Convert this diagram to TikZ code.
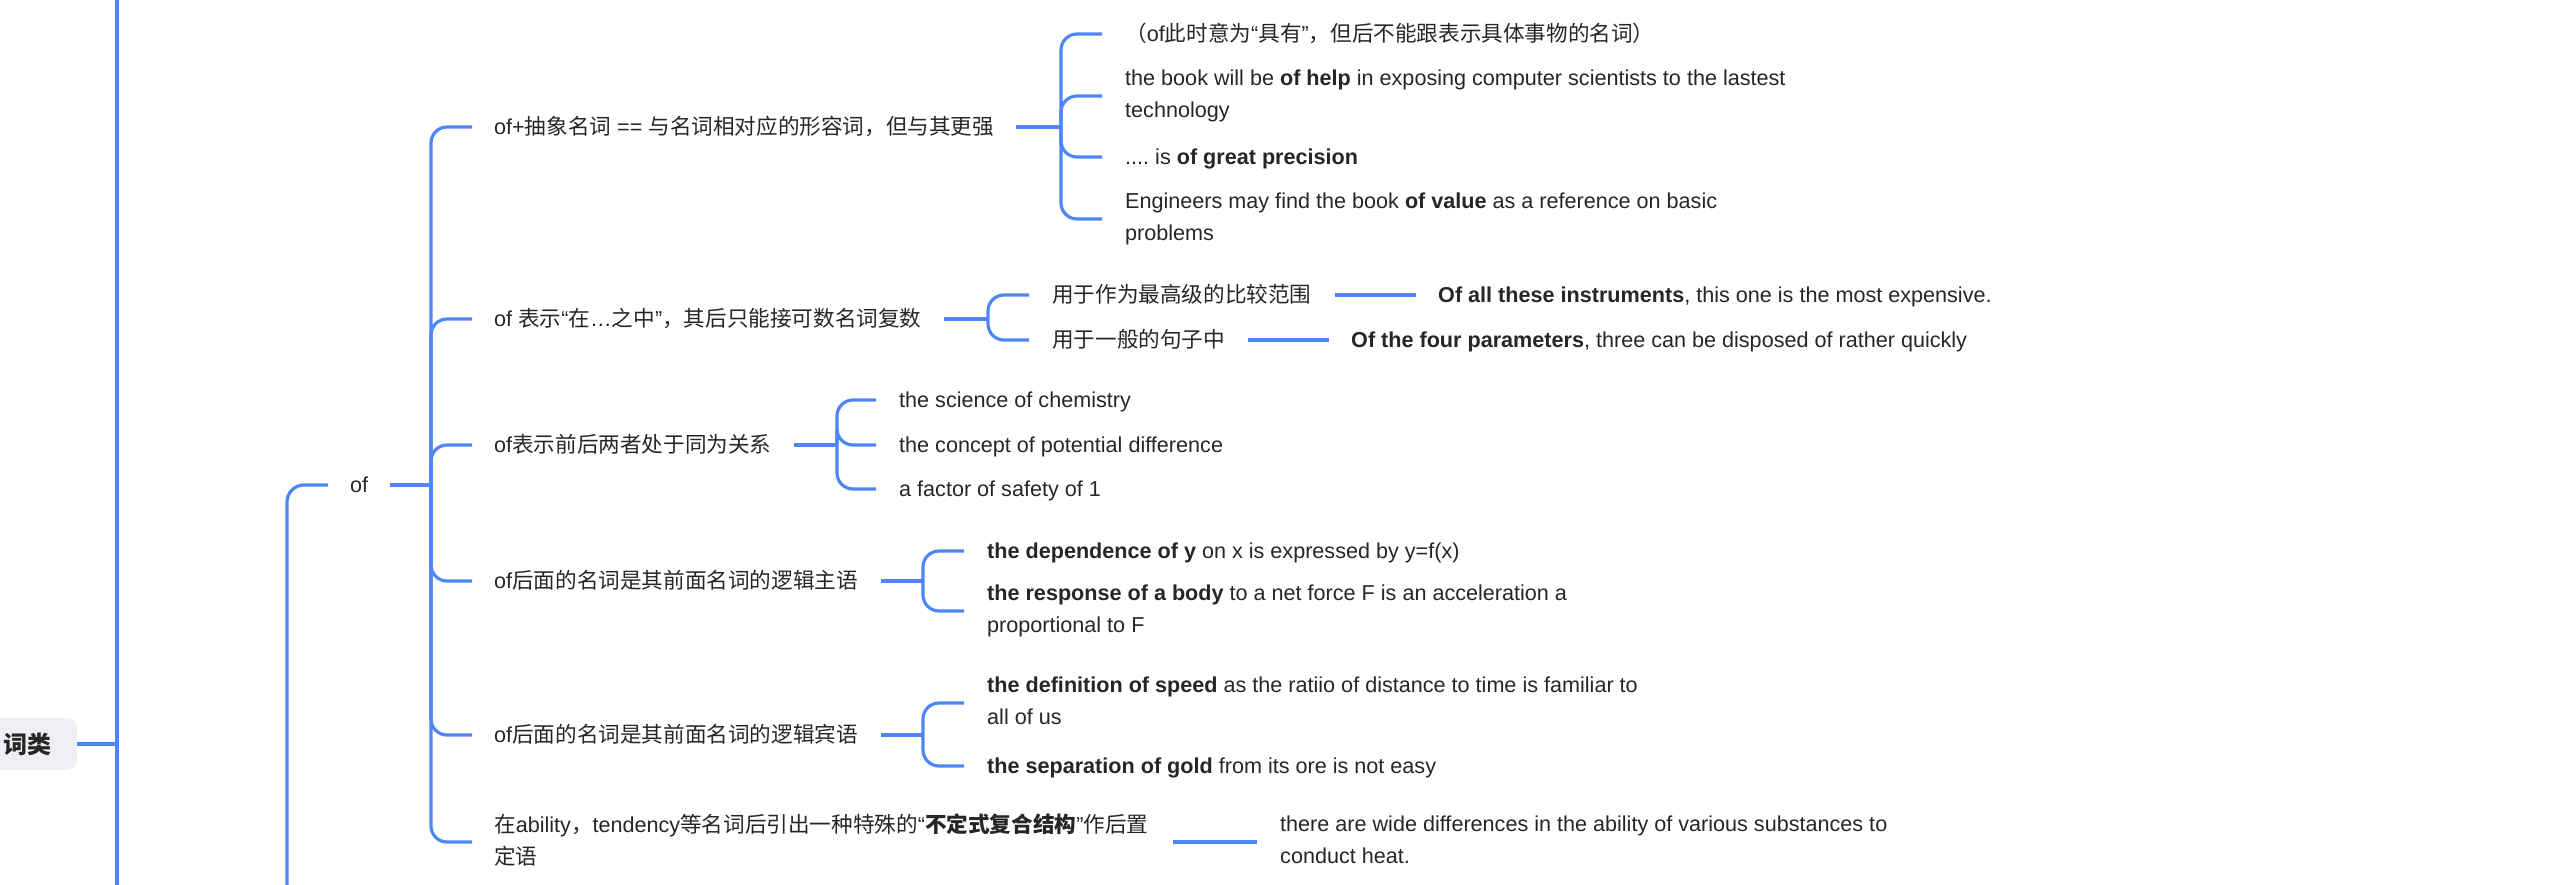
\documentclass[tikz,border=0pt]{standalone}
\usepackage{fontspec}
\setmainfont{Liberation Sans}
\newfontfamily\cjk{Noto Sans CJK SC}[Scale=1.0]
\newcommand{\zh}[1]{{\cjk #1}}
\usetikzlibrary{calc}
\definecolor{mmblue}{HTML}{4F86F7}
\definecolor{mmtext}{HTML}{262626}
\definecolor{mmgray}{HTML}{EEF0F3}
\frenchspacing
\begin{document}
\begin{tikzpicture}[x=1pt,y=-1pt,
  conn/.style={draw=mmblue, line width=3.2pt, rounded corners=16pt},
  txt/.style={anchor=west, inner sep=0pt, text=mmtext, align=left,
    font=\fontsize{21.6}{32}\selectfont,
    execute at begin node={\frenchspacing\rule{0pt}{20pt}},
    execute at end node={\rule[-5pt]{0pt}{5pt}}},
  rootbox/.style={anchor=east, fill=mmgray, rounded corners=10pt, minimum height=52pt,
    inner xsep=25pt, inner ysep=0pt, text=mmtext, font=\fontsize{24}{30}\selectfont}]
\useasboundingbox (0,0) rectangle (2559,885);

% level 0 / 1
\node[rootbox] (root) at (77,744) {\zh{\bfseries 词类}};
\coordinate (L1t) at (117,-10);
\coordinate (L1b) at (117,900);
\draw[conn] (L1t) -- (L1b);
\draw[conn] (root.east) -- (root.east -| L1t);

% of
\coordinate (L2b) at (287,900);
\coordinate (ofin) at (328,485);
\draw[conn, rounded corners=17pt] (L2b) |- (ofin);
\node[txt] (of) at (350,485) {of};
\coordinate (J0) at (431,485);
\draw[conn] ($(of.east)+(22,0)$) -- (J0);

\foreach \n/\y in {1/127,2/319,3/445,4/581,5/735,6/842}{
  \coordinate (t\n) at (472,\y);
  \draw[conn] (J0) |- (t\n);
}

% level 3 nodes
\node[txt] (n1) at ($(t1)+(22,0)$) {of+\zh{抽象名词} == \zh{与名词相对应的形容词，但与其更强}};
\node[txt] (n2) at ($(t2)+(22,0)$) {of \zh{表示}“\zh{在}…\zh{之中}”\zh{，其后只能接可数名词复数}};
\node[txt] (n3) at ($(t3)+(22,0)$) {of\zh{表示前后两者处于同为关系}};
\node[txt] (n4) at ($(t4)+(22,0)$) {of\zh{后面的名词是其前面名词的逻辑主语}};
\node[txt] (n5) at ($(t5)+(22,0)$) {of\zh{后面的名词是其前面名词的逻辑宾语}};
\node[txt] (n6) at ($(t6)+(22,0)$) {\zh{在}ability\zh{，}tendency\zh{等名词后引出一种特殊的}“\zh{\bfseries 不定式复合结构}”\zh{作后置}\\\zh{定语}};

% n1 children
\coordinate (J1) at (1061,127);
\draw[conn] ($(n1.east)+(22,0)$) -- (J1);
\foreach \n/\y in {1/34,2/96,3/157,4/219}{
  \coordinate (t1\n) at (1102,\y);
  \draw[conn] (J1) |- (t1\n);
}
\node[txt] (n11) at ($(t11)+(23,0)$) {\zh{（}of\zh{此时意为}“\zh{具有}”\zh{，但后不能跟表示具体事物的名词）}};
\node[txt] (n12) at ($(t12)+(23,0)$) {the book will be \textbf{of help} in exposing computer scientists to the lastest\\technology};
\node[txt] (n13) at ($(t13)+(23,0)$) {.... is \textbf{of great precision}};
\node[txt] (n14) at ($(t14)+(23,0)$) {Engineers may find the book \textbf{of value} as a reference on basic\\problems};

% n2 children
\coordinate (J2) at (988,319);
\draw[conn] ($(n2.east)+(22,0)$) -- (J2);
\coordinate (t21) at (1029,295);
\coordinate (t22) at (1029,340);
\draw[conn] (J2) |- (t21);
\draw[conn] (J2) |- (t22);
\node[txt] (n21) at ($(t21)+(23,0)$) {\zh{用于作为最高级的比较范围}};
\node[txt] (n22) at ($(t22)+(23,0)$) {\zh{用于一般的句子中}};
\coordinate (t211) at (1416,295);
\coordinate (t221) at (1329,340);
\draw[conn] ($(n21.east)+(23,0)$) -- (t211);
\draw[conn] ($(n22.east)+(23,0)$) -- (t221);
\node[txt] (l21) at ($(t211)+(22,0)$) {\textbf{Of all these instruments}, this one is the most expensive.};
\node[txt] (l22) at ($(t221)+(22,0)$) {\textbf{Of the four parameters}, three can be disposed of rather quickly};

% n3 children
\coordinate (J3) at (837,445);
\draw[conn] ($(n3.east)+(22,0)$) -- (J3);
\foreach \n/\y in {1/400,2/445,3/489}{
  \coordinate (t3\n) at (876,\y);
  \draw[conn] (J3) |- (t3\n);
}
\node[txt] (n31) at ($(t31)+(23,0)$) {the science of chemistry};
\node[txt] (n32) at ($(t32)+(23,0)$) {the concept of potential difference};
\node[txt] (n33) at ($(t33)+(23,0)$) {a factor of safety of 1};

% n4 children
\coordinate (J4) at (923,581);
\draw[conn] ($(n4.east)+(23,0)$) -- (J4);
\coordinate (t41) at (964,551);
\coordinate (t42) at (964,611);
\draw[conn] (J4) |- (t41);
\draw[conn] (J4) |- (t42);
\node[txt] (n41) at ($(t41)+(23,0)$) {\textbf{the dependence of y} on x is expressed by y=f(x)};
\node[txt] (n42) at ($(t42)+(23,0)$) {\textbf{the response of a body} to a net force F is an acceleration a\\proportional to F};

% n5 children
\coordinate (J5) at (923,735);
\draw[conn] ($(n5.east)+(23,0)$) -- (J5);
\coordinate (t51) at (964,703);
\coordinate (t52) at (964,766);
\draw[conn] (J5) |- (t51);
\draw[conn] (J5) |- (t52);
\node[txt] (n51) at ($(t51)+(23,0)$) {\textbf{the definition of speed} as the ratiio of distance to time is familiar to\\all of us};
\node[txt] (n52) at ($(t52)+(23,0)$) {\textbf{the separation of gold} from its ore is not easy};

% n6 child
\coordinate (t61) at (1257,842);
\draw[conn] ($(n6.east)+(25,0)$) -- (t61);
\node[txt] (l6) at ($(t61)+(23,0)$) {there are wide differences in the ability of various substances to\\conduct heat.};
\end{tikzpicture}
\end{document}
